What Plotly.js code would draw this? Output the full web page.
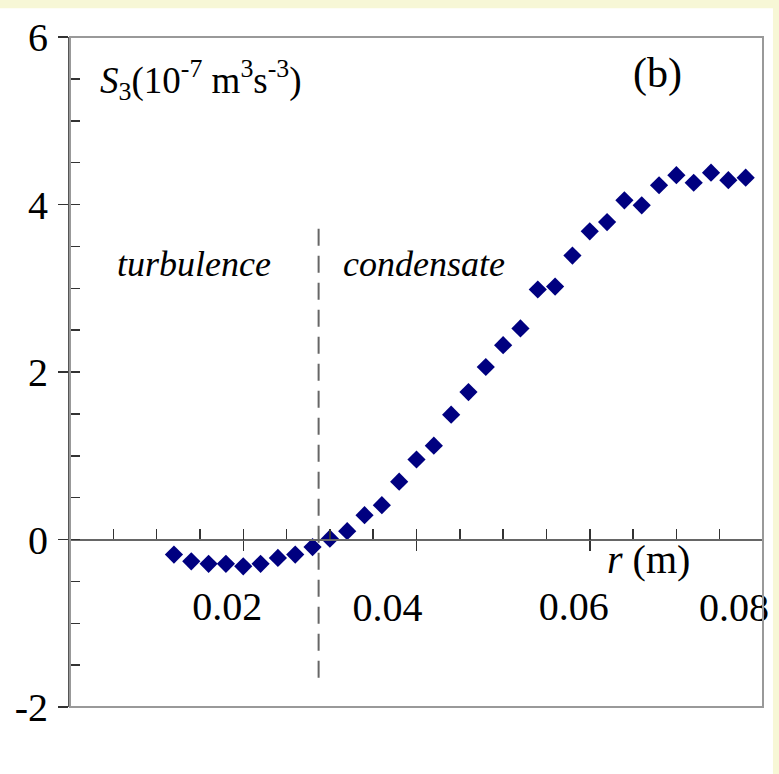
<!DOCTYPE html>
<html>
<head>
<meta charset="utf-8">
<script src="https://cdn.plot.ly/plotly-3.0.1.min.js"></script>
<style>html,body{margin:0;padding:0;background:#f7f7d6;}#plot{width:779px;height:774px;}</style>
</head>
<body>
<div id="plot"></div>
<script>
// Data
const r = [0.012,0.014,0.016,0.018,0.020,0.022,0.024,0.026,0.028,0.030,0.032,0.034,0.036,0.038,0.040,0.042,0.044,0.046,0.048,0.050,0.052,0.054,0.056,0.058,0.060,0.062,0.064,0.066,0.068,0.070,0.072,0.074,0.076,0.078];
const S3 = [-0.18,-0.26,-0.29,-0.29,-0.32,-0.29,-0.22,-0.18,-0.09,0.01,0.10,0.29,0.41,0.69,0.955,1.12,1.49,1.76,2.06,2.32,2.52,2.985,3.02,3.39,3.68,3.79,4.05,3.99,4.23,4.35,4.26,4.38,4.29,4.32];
const xTickVals = [0.02,0.04,0.06,0.08];
const xTickTextA = ['0.02','','0.06',''];
const xTickTextB = ['','0.04','','0.08'];
const yTickVals = [-2,0,2,4,6];
const yTickText = ['-2','0','2','4','6'];
const xRange = [0,0.08];
const yRange = [-2,6];
const boundaryR = 0.0287;
const boundaryY = [-1.65,3.82];

const FONT = 'Liberation Serif, Times New Roman, serif';
const tickCol = '#333333';

const traces = [
  {x: r, y: S3, type: 'scatter', mode: 'markers', xaxis: 'x', yaxis: 'y',
   marker: {symbol: 'diamond', size: 14, color: '#000080', line: {width: 0}},
   hoverinfo: 'skip', showlegend: false},
  {x: [null], y: [null], type: 'scatter', mode: 'markers', xaxis: 'x2', yaxis: 'y2', showlegend: false, hoverinfo: 'skip'}
];

const layout = {
  width: 779, height: 774,
  margin: {l: 70, r: 16, t: 37, b: 67, pad: 0},
  paper_bgcolor: '#f7f7d6',
  plot_bgcolor: '#ffffff',
  showlegend: false,
  font: {family: FONT, size: 40, color: '#000'},
  xaxis: {
    range: xRange, anchor: 'free', position: 0.25,
    showgrid: false, zeroline: false,
    showline: true, linecolor: '#666666', linewidth: 2,
    tickmode: 'array', tickvals: xTickVals, ticktext: xTickTextA,
    ticks: 'outside', ticklen: 10, tickwidth: 1.5, tickcolor: tickCol,
    ticklabelstandoff: 21, ticklabelshift: -16, ticklabeloverflow: 'allow',
    tickfont: {family: FONT, size: 40, color: '#000'},
    minor: {tickmode: 'linear', tick0: 0, dtick: 0.005, ticks: 'inside', ticklen: 10, tickwidth: 1.5, tickcolor: tickCol, showgrid: false}
  },
  yaxis: {
    range: yRange, domain: [0,1],
    showgrid: false, zeroline: false,
    showline: true, linecolor: '#555555', linewidth: 2,
    tickmode: 'array', tickvals: yTickVals, ticktext: yTickText,
    ticks: 'outside', ticklen: 10, tickwidth: 1.5, tickcolor: tickCol,
    ticklabelstandoff: 2, ticklabeloverflow: 'allow',
    tickfont: {family: FONT, size: 40, color: '#000'},
    minor: {tickmode: 'linear', tick0: 0, dtick: 0.5, ticks: 'inside', ticklen: 10, tickwidth: 1.5, tickcolor: tickCol, showgrid: false}
  },
  xaxis2: {
    range: xRange, overlaying: 'x', anchor: 'free', position: 0.25, side: 'bottom',
    showgrid: false, zeroline: false, showline: false, showticklabels: true,
    tickmode: 'array', tickvals: xTickVals, ticktext: xTickTextB,
    ticks: 'inside', ticklen: 10, tickwidth: 1.5, tickcolor: tickCol,
    ticklabelstandoff: 40, ticklabelshift: -29, ticklabeloverflow: 'allow',
    tickfont: {family: FONT, size: 40, color: '#000'}
  },
  yaxis2: {
    range: yRange, overlaying: 'y', anchor: 'x',
    showgrid: false, zeroline: false, showline: false, showticklabels: false,
    tickmode: 'array', tickvals: yTickVals,
    ticks: 'inside', ticklen: 10, tickwidth: 1.5, tickcolor: tickCol
  },
  shapes: [
    {type: 'rect', xref: 'paper', yref: 'paper', x0: -0.101, x1: 1.0144, y0: -0.1, y1: 1.043,
     fillcolor: '#ffffff', line: {width: 0}, layer: 'below'},
    {type: 'rect', xref: 'paper', yref: 'paper', x0: 0, x1: 1, y0: 0, y1: 1,
     line: {color: '#999999', width: 2}, layer: 'above'},
    {type: 'line', xref: 'x', yref: 'y', x0: boundaryR, x1: boundaryR, y0: boundaryY[0], y1: boundaryY[1],
     line: {color: '#666666', width: 2, dash: '17px,10px'}}
  ],
  annotations: [
    {xref: 'paper', yref: 'paper', x: 0.04, y: 0.936, xanchor: 'left', yanchor: 'middle', showarrow: false,
     text: '<i>S</i><sub>3</sub>(10<sup>-7</sup> m<sup>3</sup>s<sup>-3</sup>)', font: {family: FONT, size: 37, color: '#000'}},
    {xref: 'paper', yref: 'paper', x: 0.848, y: 0.945, xanchor: 'center', yanchor: 'middle', showarrow: false,
     text: '(b)', font: {family: FONT, size: 42, color: '#000'}},
    {xref: 'x', yref: 'y', x: 0.01437, y: 3.29, xanchor: 'center', yanchor: 'middle', showarrow: false,
     text: '<i>turbulence</i>', font: {family: FONT, size: 36, color: '#000'}},
    {xref: 'x', yref: 'y', x: 0.04087, y: 3.29, xanchor: 'center', yanchor: 'middle', showarrow: false,
     text: '<i>condensate</i>', font: {family: FONT, size: 36, color: '#000'}},
    {xref: 'x', yref: 'y', x: 0.0668, y: -0.24, xanchor: 'center', yanchor: 'middle', showarrow: false,
     text: '<i>r</i> (m)', font: {family: FONT, size: 40, color: '#000'}}
  ]
};

Plotly.newPlot('plot', traces, layout, {displayModeBar: false, staticPlot: true});
</script>
</body>
</html>
